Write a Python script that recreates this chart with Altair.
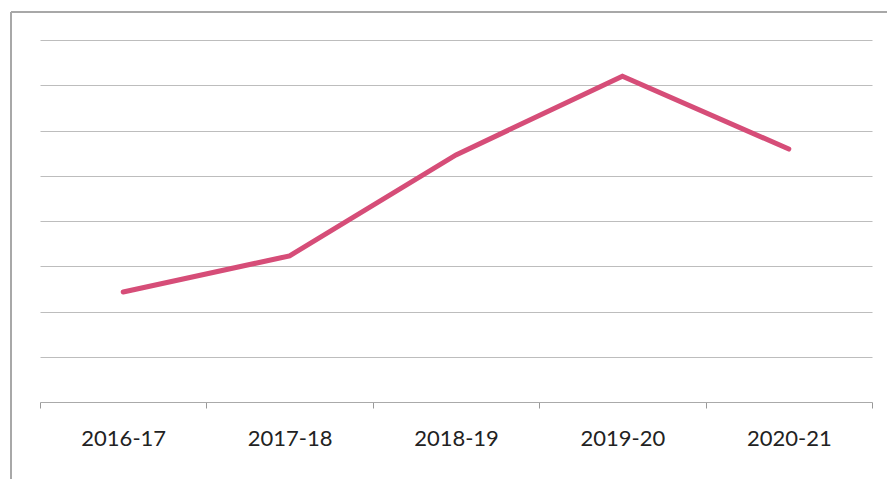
import altair as alt
import pandas as pd

years = ["2016-17", "2017-18", "2018-19", "2019-20", "2020-21"]
values = [2.43, 3.23, 5.46, 7.2, 5.59]

df = pd.DataFrame({"year": years, "value": values})

x = alt.X("year:N", sort=years,
          scale=alt.Scale(paddingInner=0, paddingOuter=0),
          axis=alt.Axis(title=None, labelAngle=0, labelFont="Lato", labelFontSize=22,
                        labelColor="#222222", labelPadding=20, tickBand="extent",
                        tickSize=6, tickColor="#999999", domainColor="#aaaaaa",
                        grid=False))
y = alt.Y("value:Q", scale=alt.Scale(domain=[0, 8], nice=False),
          axis=alt.Axis(title=None, labels=False, ticks=False, domain=False,
                        values=[1, 2, 3, 4, 5, 6, 7, 8],
                        gridColor="#bdbdbd", gridWidth=1))

line = alt.Chart(df).mark_line(color="#d64d78", strokeWidth=5, strokeCap="round").encode(x=x, y=y)

frame_left = alt.Chart(df).mark_rule(color="#a8a8a8", strokeWidth=1.5).encode(
    x=alt.value(-29), y=alt.value(-28), y2=alt.value(440))
frame_top = alt.Chart(df).mark_rule(color="#a8a8a8", strokeWidth=1.5).encode(
    x=alt.value(-29), x2=alt.value(850), y=alt.value(-28))

chart = alt.layer(line, frame_left, frame_top).properties(
    width=832, height=362,
    background="white",
    autosize=alt.AutoSizeParams(type="none"),
    padding={"left": 40, "top": 40, "right": 15, "bottom": 77},
).configure_view(stroke=None)

chart.save("out.html", embed_options={"renderer": "svg", "actions": False})
